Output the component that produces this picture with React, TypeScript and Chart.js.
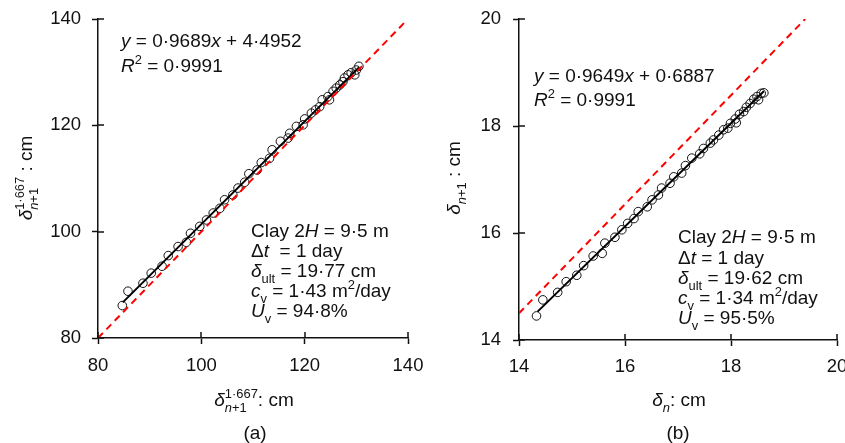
import React, { useEffect, useRef } from "react";
import { Chart, registerables } from "chart.js";

Chart.register(...registerables);

// ---------- data: panel (a) ----------
const A_X = [84.7, 85.8, 88.7, 90.3, 92.4, 93.6, 95.5, 97.1, 97.9, 99.7, 101.0, 102.3, 103.6, 104.5, 106.1, 107.1, 108.4, 109.2, 110.8, 111.6, 113.2, 113.7, 115.3, 116.8, 117.1, 118.4, 119.7, 120.0, 121.3, 122.1, 122.9, 123.4, 124.5, 124.8, 125.5, 126.1, 126.8, 127.4, 127.7, 128.4, 129.0, 129.7, 130.0, 130.5];
const A_Y = [86.1, 88.8, 90.3, 92.2, 93.5, 95.5, 97.2, 98.0, 99.7, 101.0, 102.2, 103.5, 104.4, 106.0, 106.9, 108.2, 109.3, 110.9, 111.6, 113.0, 113.8, 115.4, 117.0, 117.6, 118.5, 119.8, 120.1, 121.2, 122.3, 122.9, 123.5, 124.8, 125.4, 124.8, 126.4, 127.0, 127.6, 128.2, 128.9, 129.5, 129.9, 129.5, 130.4, 131.1];
const A_FIT_X = [84.8, 130.5];
const A_FIT_Y = [86.7, 130.9];
const A_REF_X = [80, 139.5];
const A_REF_Y = [80, 139.5];
const A_TICKS = [80, 100, 120, 140];

// ---------- data: panel (b) ----------
const B_X = [14.33, 14.45, 14.73, 14.89, 15.09, 15.22, 15.40, 15.57, 15.62, 15.81, 15.94, 16.05, 16.17, 16.25, 16.42, 16.51, 16.63, 16.69, 16.85, 16.92, 17.07, 17.14, 17.26, 17.41, 17.48, 17.61, 17.67, 17.77, 17.86, 17.94, 17.99, 18.08, 18.10, 18.16, 18.24, 18.29, 18.36, 18.43, 18.49, 18.52, 18.57, 18.62];
const B_Y = [14.45, 14.75, 14.89, 15.09, 15.21, 15.39, 15.57, 15.62, 15.81, 15.92, 16.06, 16.18, 16.27, 16.40, 16.49, 16.62, 16.71, 16.84, 16.93, 17.05, 17.12, 17.26, 17.40, 17.48, 17.58, 17.68, 17.74, 17.83, 17.93, 17.96, 18.05, 18.13, 18.06, 18.22, 18.27, 18.35, 18.42, 18.50, 18.55, 18.49, 18.61, 18.62];
const B_FIT_X = [14.35, 18.62];
const B_FIT_Y = [14.53, 18.65];
const B_REF_X = [14, 19.4];
const B_REF_Y = [14.5, 20];
const B_TICKS = [14, 16, 18, 20];

const FONT = '"Liberation Sans", Arial, Helvetica, sans-serif';
const INK = "#111";

type Seg = { t: string; i?: boolean; v?: "sup" | "sub" } | { stack: [Seg[], Seg[]] };
type Item = { x: number; y: number; size: number; segs: Seg[]; align?: "left" | "center"; rot?: boolean };

function fontFor(s: { i?: boolean; v?: string }, size: number) {
  const sz = s.v ? size * 0.68 : size;
  return `${s.i ? "italic " : ""}${sz}px ${FONT}`;
}

function runSegs(ctx: CanvasRenderingContext2D, segs: Seg[], x: number, base: number, size: number, draw: boolean, forced?: "sup" | "sub"): number {
  let cx = x;
  for (const s of segs) {
    if ("stack" in s) {
      const w1 = runSegs(ctx, s.stack[0], cx, base, size, draw, "sup");
      const w2 = runSegs(ctx, s.stack[1], cx, base, size, draw, "sub");
      cx += Math.max(w1, w2);
      continue;
    }
    const v = s.v || forced;
    ctx.font = fontFor({ i: s.i, v }, size);
    const dy = v === "sup" ? -size * 0.4 : v === "sub" ? size * 0.3 : 0;
    if (draw) ctx.fillText(s.t, cx, base + dy);
    cx += ctx.measureText(s.t).width;
  }
  return cx - x;
}

function drawItem(ctx: CanvasRenderingContext2D, it: Item) {
  ctx.save();
  ctx.fillStyle = INK;
  ctx.textBaseline = "alphabetic";
  ctx.textAlign = "left";
  ctx.translate(it.x, it.y);
  if (it.rot) ctx.rotate(-Math.PI / 2);
  const w = runSegs(ctx, it.segs, 0, 0, it.size, false);
  const x0 = it.align === "center" ? -w / 2 : 0;
  runSegs(ctx, it.segs, x0, it.size * 0.36, it.size, true);
  ctx.restore();
}

const richPlugin = {
  id: "richText",
  afterDraw(chart: any) {
    const ctx = chart.ctx as CanvasRenderingContext2D;
    // crossing tick marks (inner half)
    const { left, bottom } = chart.chartArea;
    ctx.save();
    ctx.strokeStyle = INK;
    ctx.lineWidth = 1.5;
    const xs = chart.scales.x;
    const ys = chart.scales.y;
    xs.ticks.forEach((t: any) => {
      const p = Math.round(xs.getPixelForValue(t.value));
      ctx.beginPath();
      ctx.moveTo(p, bottom);
      ctx.lineTo(p, bottom - 6);
      ctx.stroke();
    });
    ys.ticks.forEach((t: any) => {
      const p = Math.round(ys.getPixelForValue(t.value));
      ctx.beginPath();
      ctx.moveTo(left, p);
      ctx.lineTo(left + 6, p);
      ctx.stroke();
    });
    ctx.restore();
    const items: Item[] = chart.options.plugins.richText?.items || [];
    items.forEach((it) => drawItem(ctx, it));
  },
};

function pts(xs: number[], ys: number[]) {
  return xs.map((x, i) => ({ x, y: ys[i] }));
}

type PanelCfg = {
  px: number[]; py: number[]; fx: number[]; fy: number[]; rx: number[]; ry: number[];
  ticks: number[]; yWidth: number; xHeight: number; padRight: number; yPad: number; xPad: number;
  items: Item[];
};

function makeConfig(c: PanelCfg): any {
  const tickFont = { family: FONT, size: 18.5 };
  return {
    type: "scatter",
    data: {
      datasets: [
        {
          data: pts(c.rx, c.ry), showLine: true, borderColor: "#ff0000", borderWidth: 2,
          borderDash: [7, 5], pointRadius: 0, fill: false,
        },
        {
          data: pts(c.fx, c.fy), showLine: true, borderColor: "#000", borderWidth: 2,
          pointRadius: 0, fill: false,
        },
        {
          data: pts(c.px, c.py), showLine: false, pointStyle: "circle", pointRadius: 4.3,
          borderColor: "#111", borderWidth: 1, backgroundColor: "rgba(0,0,0,0)",
        },
      ],
    },
    options: {
      responsive: false,
      animation: false,
      devicePixelRatio: 1,
      layout: { padding: { top: 19, right: c.padRight, left: 0, bottom: 0 } },
      plugins: { legend: { display: false }, tooltip: { enabled: false }, title: { display: false }, richText: { items: c.items } },
      scales: {
        x: {
          type: "linear", min: c.ticks[0], max: c.ticks[c.ticks.length - 1],
          afterBuildTicks: (s: any) => { s.ticks = c.ticks.map((v) => ({ value: v })); },
          ticks: { font: tickFont, color: INK, padding: c.xPad, maxRotation: 0 },
          grid: { drawOnChartArea: false, drawTicks: true, tickLength: 6, tickColor: INK, tickWidth: 1.5 },
          border: { color: INK, width: 1.5 },
          afterFit: (s: any) => { s.height = c.xHeight; s.paddingLeft = 0; s.paddingRight = 0; },
        },
        y: {
          type: "linear", min: c.ticks[0], max: c.ticks[c.ticks.length - 1],
          afterBuildTicks: (s: any) => { s.ticks = c.ticks.map((v) => ({ value: v })); },
          ticks: { font: tickFont, color: INK, padding: c.yPad },
          grid: { drawOnChartArea: false, drawTicks: true, tickLength: 6, tickColor: INK, tickWidth: 1.5 },
          border: { color: INK, width: 1.5 },
          afterFit: (s: any) => { s.width = c.yWidth; s.paddingTop = 0; s.paddingBottom = 0; },
        },
      },
    },
    plugins: [richPlugin],
  };
}

const S = 19;

const itemsA: Item[] = [
  { x: 121, y: 40, size: S, segs: [{ t: "y", i: true }, { t: " = 0·9689" }, { t: "x", i: true }, { t: " + 4·4952" }] },
  { x: 121, y: 65, size: S, segs: [{ t: "R", i: true }, { t: "2", v: "sup" }, { t: " = 0·9991" }] },
  { x: 251, y: 230, size: S, segs: [{ t: "Clay 2" }, { t: "H", i: true }, { t: " = 9·5 m" }] },
  { x: 251, y: 250, size: S, segs: [{ t: "Δ" }, { t: "t", i: true }, { t: "  = 1 day" }] },
  { x: 251, y: 270, size: S, segs: [{ t: "δ", i: true }, { t: "ult", v: "sub" }, { t: " = 19·77 cm" }] },
  { x: 251, y: 290, size: S, segs: [{ t: "c", i: true }, { t: "v", v: "sub" }, { t: " = 1·43 m" }, { t: "2", v: "sup" }, { t: "/day" }] },
  { x: 251, y: 310, size: S, segs: [{ t: "U", i: true }, { t: "v", v: "sub" }, { t: " = 94·8%" }] },
  { x: 254, y: 399, size: S, align: "center", segs: [{ t: "δ", i: true }, { stack: [[{ t: "1·667" }], [{ t: "n", i: true }, { t: "+1" }]] }, { t: ": cm" }] },
  { x: 25, y: 178, size: S, align: "center", rot: true, segs: [{ t: "δ", i: true }, { stack: [[{ t: "1·667" }], [{ t: "n", i: true }, { t: "+1" }]] }, { t: " : cm" }] },
  { x: 255, y: 432, size: S, align: "center", segs: [{ t: "(a)" }] },
];

const OX = 420;
const itemsB: Item[] = [
  { x: 534 - OX, y: 75, size: S, segs: [{ t: "y", i: true }, { t: " = 0·9649" }, { t: "x", i: true }, { t: " + 0·6887" }] },
  { x: 534 - OX, y: 99, size: S, segs: [{ t: "R", i: true }, { t: "2", v: "sup" }, { t: " = 0·9991" }] },
  { x: 678 - OX, y: 236, size: S, segs: [{ t: "Clay 2" }, { t: "H", i: true }, { t: " = 9·5 m" }] },
  { x: 678 - OX, y: 257, size: S, segs: [{ t: "Δ" }, { t: "t", i: true }, { t: " = 1 day" }] },
  { x: 678 - OX, y: 277, size: S, segs: [{ t: "δ", i: true }, { t: "ult", v: "sub" }, { t: " = 19·62 cm" }] },
  { x: 678 - OX, y: 297, size: S, segs: [{ t: "c", i: true }, { t: "v", v: "sub" }, { t: " = 1·34 m" }, { t: "2", v: "sup" }, { t: "/day" }] },
  { x: 678 - OX, y: 317, size: S, segs: [{ t: "U", i: true }, { t: "v", v: "sub" }, { t: " = 95·5%" }] },
  { x: 679 - OX, y: 399, size: S, align: "center", segs: [{ t: "δ", i: true }, { t: "n", i: true, v: "sub" }, { t: ": cm" }] },
  { x: 453 - OX, y: 178, size: S, align: "center", rot: true, segs: [{ t: "δ", i: true }, { t: "n", i: true, v: "sub" }, { t: "+1", v: "sub" }, { t: " : cm" }] },
  { x: 678 - OX, y: 432, size: S, align: "center", segs: [{ t: "(b)" }] },
];

function Panel({ left, width, cfg }: { left: number; width: number; cfg: PanelCfg }) {
  const ref = useRef<HTMLCanvasElement>(null);
  useEffect(() => {
    if (!ref.current) return;
    const chart = new Chart(ref.current, makeConfig(cfg));
    return () => chart.destroy();
  }, []);
  return (
    <canvas
      ref={ref}
      width={width}
      height={443}
      style={{ position: "absolute", left, top: 0, width, height: 443 }}
    />
  );
}

export default function App() {
  const cfgA: PanelCfg = {
    px: A_X, py: A_Y, fx: A_FIT_X, fy: A_FIT_Y, rx: A_REF_X, ry: A_REF_Y, ticks: A_TICKS,
    yWidth: 98, xHeight: 443 - 338, padRight: 435 - 408, yPad: 11, xPad: 11, items: itemsA,
  };
  const cfgB: PanelCfg = {
    px: B_X, py: B_Y, fx: B_FIT_X, fy: B_FIT_Y, rx: B_REF_X, ry: B_REF_Y, ticks: B_TICKS,
    yWidth: 99, xHeight: 443 - 340, padRight: 435 - 417, yPad: 12, xPad: 10, items: itemsB,
  };
  return (
    <div style={{ position: "absolute", left: 0, top: 0, width: 845, height: 443, overflow: "hidden", background: "#fff" }}>
      <Panel left={420} width={435} cfg={cfgB} />
      <Panel left={0} width={435} cfg={cfgA} />
    </div>
  );
}
